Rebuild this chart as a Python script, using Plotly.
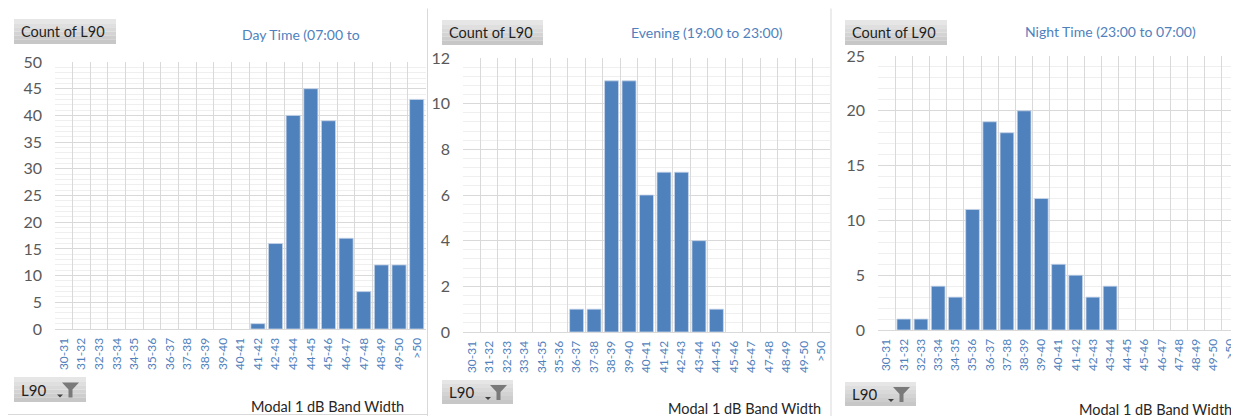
import plotly.graph_objects as go

categories = ["30-31", "31-32", "32-33", "33-34", "34-35", "35-36", "36-37", "37-38",
              "38-39", "39-40", "40-41", "41-42", "42-43", "43-44", "44-45", "45-46",
              "46-47", "47-48", "48-49", "49-50", ">50"]
day_counts = [0, 0, 0, 0, 0, 0, 0, 0, 0, 0, 0, 1, 16, 40, 45, 39, 17, 7, 12, 12, 43]
evening_counts = [0, 0, 0, 0, 0, 0, 1, 1, 11, 11, 6, 7, 7, 4, 1, 0, 0, 0, 0, 0, 0]
night_counts = [0, 1, 1, 4, 3, 11, 19, 18, 20, 12, 6, 5, 3, 4, 0, 0, 0, 0, 0, 0, 0]
titles = ["Day Time (07:00 to", "Evening (19:00 to 23:00)", "Night Time (23:00 to 07:00)"]
y_max = [50, 12, 25]
y_major = [5, 2, 5]
y_minor = [1, 0.4, 1]

W, H = 1239, 416
OFF = 8  # page offset of the figure inside the browser window
FONT = "Lato"
BAR = "#4F81BD"
BLUE_TXT = "#4F81BD"


def px(x):
    return (x - OFF) / W


def py(y):
    return 1 - (y - OFF) / H


# plot-area pixel boxes in window coordinates (left, right, top, bottom)
boxes = [(55, 425.5, 62, 329), (463, 830, 58, 332), (878, 1239, 56, 330)]
series = [day_counts, evening_counts, night_counts]

fig = go.Figure()
shapes = []
annotations = []

for i, (vals, box) in enumerate(zip(series, boxes)):
    n = "" if i == 0 else str(i + 1)
    fig.add_trace(go.Bar(
        x=categories, y=vals, xaxis="x" + n, yaxis="y" + n,
        marker=dict(color=BAR, line=dict(color="#C9D7EA",
                                         width=[0.8 if v > 0 else 0 for v in vals])),
        showlegend=False, hoverinfo="x+y"))
    l, r, t, b = box
    fig.update_layout(**{
        "xaxis" + n: dict(
            domain=[px(l), min(1, px(r))], anchor="y" + n, type="category",
            range=[-0.5, 20.5], tickangle=-90, tickson="boundaries",
            showgrid=True, gridcolor="#D9D9D9", gridwidth=1,
            showline=True, linecolor="#D9D9D9", linewidth=1,
            ticks="", ticklabelstandoff=3, automargin=False,
            tickfont=dict(family=FONT, size=12, color=BLUE_TXT),
            fixedrange=True),
        "yaxis" + n: dict(
            domain=[py(b), py(t)], anchor="x" + n,
            range=[0, y_max[i]], dtick=y_major[i], tick0=0,
            showgrid=True, gridcolor="#D9D9D9", gridwidth=1,
            minor=dict(dtick=y_minor[i], showgrid=True, gridcolor="#EFEFEF", gridwidth=1),
            zeroline=False, showline=False, ticks="", ticklabelstandoff=12, automargin=False,
            tickfont=dict(family=FONT, size=16, color="#595959"),
            fixedrange=True),
    })

# buttons: "Count of L90" boxes and "L90" filter boxes
count_btns = [(14, 116, 19, 44), (442, 543, 20, 45), (845, 947, 20, 45)]
filter_btns = [(14, 86, 377, 402), (442, 513, 380, 404), (845, 916, 382, 406)]
grad = ["#E6E6E6", "#DFDFDF", "#D9D9D9", "#D3D3D3", "#CDCDCD", "#C7C7C7"]


def button(x0, x1, y0, y1):
    h = (y1 - y0) / len(grad)
    for k, c in enumerate(grad):
        shapes.append(dict(type="rect", xref="paper", yref="paper",
                           x0=px(x0), x1=px(x1), y0=py(y0 + (k + 1) * h), y1=py(y0 + k * h),
                           fillcolor=c, line=dict(width=0), layer="above"))


for (x0, x1, y0, y1) in count_btns:
    button(x0, x1, y0, y1)
    annotations.append(dict(text="Count of L90", x=px(x0 + 5), y=py((y0 + y1) / 2),
                            xref="paper", yref="paper", xanchor="left", yanchor="middle",
                            showarrow=False, font=dict(family=FONT, size=14.5, color="#1F1F1F")))

for (x0, x1, y0, y1) in filter_btns:
    button(x0, x1, y0, y1)
    cy = (y0 + y1) / 2
    annotations.append(dict(text="L90", x=px(x0 + 5), y=py(cy),
                            xref="paper", yref="paper", xanchor="left", yanchor="middle",
                            showarrow=False, font=dict(family=FONT, size=15, color="#1F1F1F")))
    # small dropdown arrow
    ax = x0 + 43
    shapes.append(dict(type="path", xref="paper", yref="paper",
                       path=f"M {px(ax)} {py(cy + 5)} L {px(ax + 6)} {py(cy + 5)} L {px(ax + 3)} {py(cy + 8)} Z",
                       fillcolor="#404040", line=dict(width=0), layer="above"))
    # funnel
    fx = x0 + 48
    path = (f"M {px(fx)} {py(cy - 7)} L {px(fx + 17)} {py(cy - 7)} L {px(fx + 10.5)} {py(cy)} "
            f"L {px(fx + 10.5)} {py(cy + 8)} L {px(fx + 6.5)} {py(cy + 8)} L {px(fx + 6.5)} {py(cy)} Z")
    shapes.append(dict(type="path", xref="paper", yref="paper", path=path,
                       fillcolor="#7A7A7A", line=dict(width=0), layer="above"))

# chart titles
title_pos = [(240, 34), (629, 32), (1023, 31)]
for t, (x, y) in zip(titles, title_pos):
    annotations.append(dict(text=t, x=px(x), y=py(y), xref="paper", yref="paper",
                            xanchor="left", yanchor="middle", showarrow=False,
                            font=dict(family=FONT, size=14, color=BLUE_TXT)))

# axis titles
axis_title_pos = [(406, 406), (823, 408), (1234, 409)]
for (x, y) in axis_title_pos:
    annotations.append(dict(text="Modal 1 dB Band Width", x=px(x), y=py(y), xref="paper", yref="paper",
                            xanchor="right", yanchor="middle", showarrow=False,
                            font=dict(family=FONT, size=14.5, color="#262626")))

# panel separators
for x in (427.5, 831):
    shapes.append(dict(type="line", xref="paper", yref="paper", x0=px(x), x1=px(x),
                       y0=py(8.5), y1=py(416), line=dict(color="#D9D9D9", width=1)))
shapes.append(dict(type="line", xref="paper", yref="paper", x0=0, x1=px(427.5),
                   y0=py(414.5), y1=py(414.5), line=dict(color="#D9D9D9", width=1)))

fig.update_layout(width=W, height=H,
                  margin=dict(l=0, r=0, t=0, b=0, autoexpand=False),
                  paper_bgcolor="white", plot_bgcolor="white",
                  bargap=0.2, shapes=shapes, annotations=annotations,
                  font=dict(family=FONT))

fig.write_html("out.html", config={"displayModeBar": False})
